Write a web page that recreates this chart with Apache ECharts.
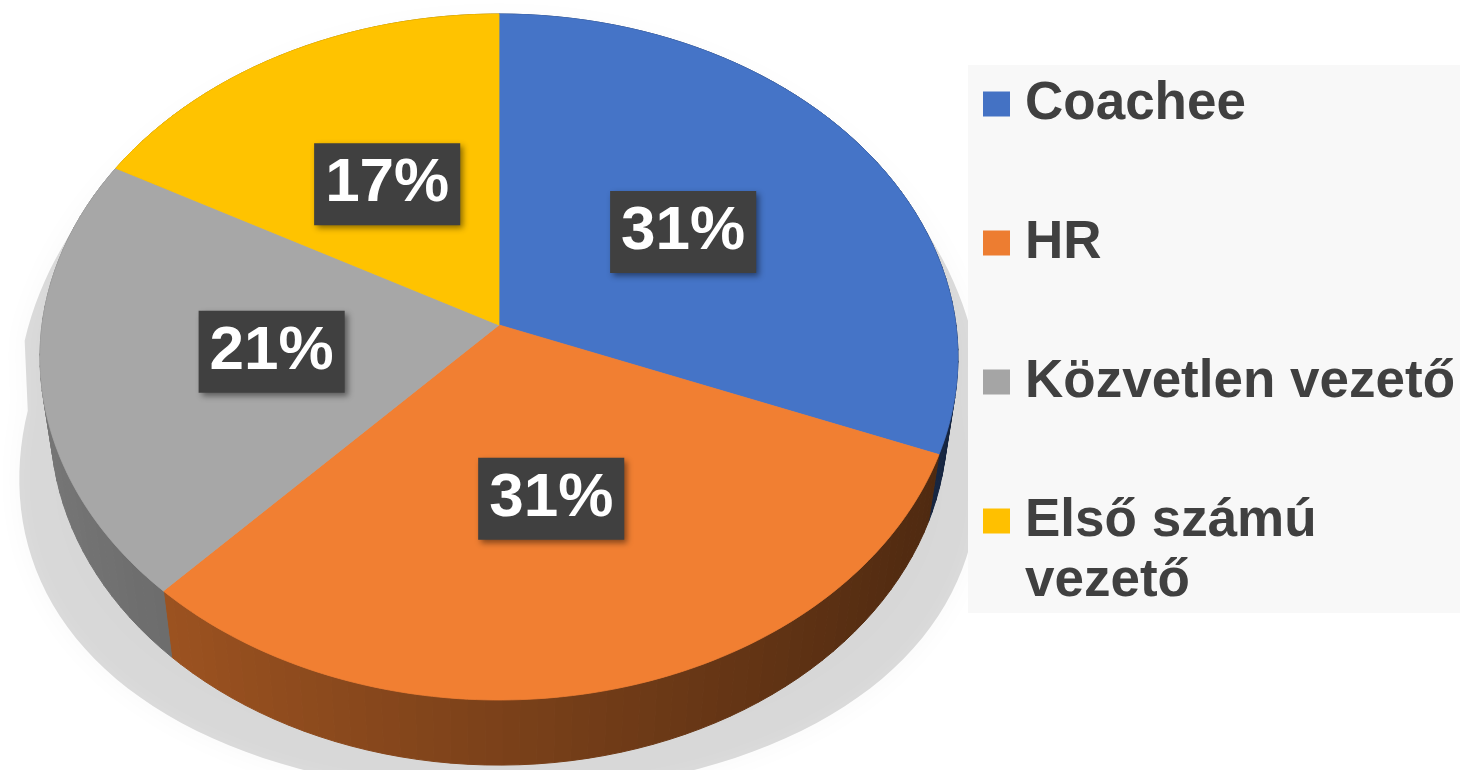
<!DOCTYPE html>
<html>
<head>
<meta charset="utf-8">
<script src="https://cdn.jsdelivr.net/npm/echarts@6/dist/echarts.min.js"></script>
<style>
  html, body { margin: 0; background: #fff; }
  #chart { width: 1460px; height: 770px; }
</style>
</head>
<body>
<div id="chart"></div>
<script>
const categories = ['Coachee', 'HR', 'Közvetlen vezető', 'Első számú vezető'];
const values = [31, 31, 21, 17];
const colors = ['#4472C4', '#ED7D31', '#A5A5A5', '#FFC000'];

const total = values.reduce((a, b) => a + b, 0);

// tilted disc seen in perspective
const view = { cx: 499, cy: 325, f: 3272, dist: 7.16, sinA: 0.744, cosA: 0.668, depth: 0.2275 };

function project(x, y, z) {
  const v = y * view.sinA - z * view.cosA;
  const w = view.dist - y * view.cosA - z * view.sinA;
  return [view.cx + view.f * x / w, view.cy + view.f * v / w];
}

// angle in degrees, clockwise from 12 o'clock
function rim(deg, r, z) {
  const a = deg * Math.PI / 180;
  return project(r * Math.sin(a), -r * Math.cos(a), z);
}

function shade(hex, k) {
  const n = parseInt(hex.slice(1), 16);
  const c = [(n >> 16) & 255, (n >> 8) & 255, n & 255].map(v => Math.min(255, Math.round(v * k)));
  return 'rgb(' + c.join(',') + ')';
}

function renderSlice(params, api) {
  const i = params.seriesIndex;
  const color = api.visual('color');
  const before = values.slice(0, i).reduce((a, b) => a + b, 0);
  const start = before / total * 360;
  const end = start + api.value(0) / total * 360;
  const children = [];

  if (i === 0) {
    // perspective shadow behind the pie, widening towards the bottom
    const outline = [];
    for (let d = -90; d <= 90; d += 2) outline.push(rim(d, 1, 0));
    for (let d = 90; d <= 270; d += 2) outline.push(rim(d, 1, -view.depth));
    const cast = outline.map(p => [view.cx + (p[0] - view.cx) * (1 + 3.6e-7 * p[1] * p[1]), p[1] * 1.03 + 6]);
    children.push({
      type: 'polygon', z2: -10, shape: { points: cast },
      style: { fill: 'rgba(0,0,0,0.13)', shadowBlur: 30, shadowColor: 'rgba(0,0,0,0.25)' }
    });
  }

  // side wall
  const step = 2;
  for (let a = start; a < end - 1e-6; a += step) {
    const b = Math.min(a + step, end);
    const mid = (a + b) / 2 * Math.PI / 180;
    const c = shade(color, 0.52 - 0.2 * Math.sin(mid));
    children.push({
      type: 'polygon', z2: 0,
      shape: { points: [rim(a, 1, 0), rim(b, 1, 0), rim(b, 1, -view.depth), rim(a, 1, -view.depth)] },
      style: { fill: c, stroke: c, lineWidth: 1 }
    });
  }

  // top face
  const top = shade(color, 1.015);
  const pts = [project(0, 0, 0)];
  for (let a = start; a < end; a += 1) pts.push(rim(a, 1, 0));
  pts.push(rim(end, 1, 0));
  children.push({
    type: 'polygon', z2: 20, shape: { points: pts },
    style: { fill: top, stroke: top, lineWidth: 0.8 }
  });

  // percentage label
  const lp = rim((start + end) / 2, 0.5, 0);
  children.push({
    type: 'text', z2: 50, x: lp[0], y: lp[1],
    style: {
      text: Math.round(api.value(0) / total * 100) + '%',
      fill: '#fff',
      font: 'bold 62px "Liberation Sans", Arial, sans-serif',
      lineHeight: 70,
      align: 'center', verticalAlign: 'middle',
      backgroundColor: '#404040',
      padding: [6, 11, 6, 11],
      shadowBlur: 6, shadowOffsetX: 3, shadowOffsetY: 3, shadowColor: 'rgba(0,0,0,0.45)'
    }
  });

  return { type: 'group', children };
}

const lastName = categories[categories.length - 1];
const pad = '\u00a0';

const chart = echarts.init(document.getElementById('chart'));
chart.setOption({
  backgroundColor: '#fff',
  animation: false,
  graphic: [{
    type: 'rect', left: 968, top: 65, z: 3,
    shape: { width: 492, height: 548 },
    style: { fill: '#f8f8f8' }
  }],
  legend: {
    orient: 'vertical',
    left: 983, top: 14, padding: 0,
    itemWidth: 27, itemHeight: 25, itemGap: -41,
    icon: 'rect', selectedMode: false,
    textStyle: {
      color: '#404040', fontSize: 53, fontWeight: 'bold',
      fontFamily: '"Liberation Sans", Arial, sans-serif',
      lineHeight: 60, padding: [0, 0, 0, 10]
    },
    // three text rows per entry so the square sits beside the first name row;
    // the last entry wraps onto its second row
    formatter: name => pad + '\n' + (name === lastName
      ? name.replace(/ (?=\S+$)/, '\n')
      : name + '\n' + pad),
    data: categories
  },
  series: categories.map((name, i) => ({
    type: 'custom',
    name,
    coordinateSystem: 'none',
    itemStyle: { color: colors[i] },
    data: [values[i]],
    renderItem: renderSlice
  }))
});
</script>
</body>
</html>
